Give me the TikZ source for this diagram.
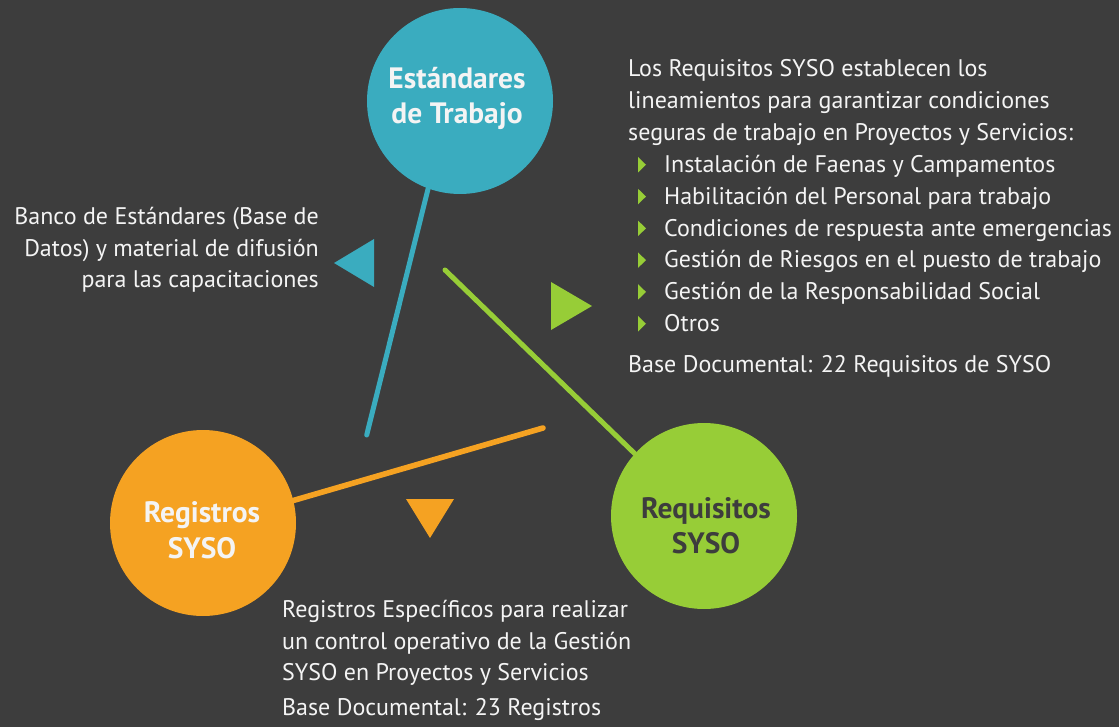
\documentclass[tikz,border=0pt]{standalone}
\usepackage{fontspec}
\setmainfont{PT Sans}
\newfontfamily\bodyfont{PT Sans}
\newfontfamily\titlefont{PT Sans}[UprightFont=* Bold]
\usetikzlibrary{calc}
\definecolor{bgc}{HTML}{3D3D3D}
\definecolor{cblue}{HTML}{3AACBF}
\definecolor{cgreen}{HTML}{97CD37}
\definecolor{corange}{HTML}{F5A222}
\definecolor{ctext}{HTML}{F4F4F4}
\definecolor{cdark}{HTML}{3D3D3D}
\pgfdeclarelayer{background}
\pgfsetlayers{background,main}
\begin{document}
\begin{tikzpicture}[x=1pt,y=-1pt,
  circ/.style={circle,minimum size=186pt,inner sep=0pt,draw=none},
  title/.style={font=\titlefont\fontsize{29.5}{35}\selectfont,inner sep=0pt,anchor=base},
  body/.style={font=\bodyfont\fontsize{24}{30}\selectfont,text=ctext,inner sep=0pt},
  bw/.style={body,anchor=base west},
  be/.style={body,anchor=base east},
  link/.style={line width=5pt,line cap=round},
  bullet/.style={fill=cgreen}
]
\useasboundingbox (0,0) rectangle (1119,727);
\begin{pgfonlayer}{background}
\fill[bgc] (0,0) rectangle (1119,727);
\end{pgfonlayer}

% circles
\node[circ,fill=cblue] (std) at (460,101) {};
\node[circ,fill=corange] (reg) at (203,523) {};
\node[circ,fill=cgreen] (req) at (704,516) {};

% connectors (under circles)
\coordinate (bend) at (366.7,435);
\coordinate (gend) at (445,270);
\coordinate (oend) at (543,428);
\begin{pgfonlayer}{background}
\draw[link,cblue] (bend) -- (std.250);
\draw[link,cgreen] (gend) -- (req.138);
\draw[link,corange,line width=5.6pt] (oend) -- (reg.14);
\end{pgfonlayer}

% circle titles
\node[title,text=ctext] (std1) at (457,89) {Estándares};
\node[title,text=ctext] (std2) at (457,124) {de Trabajo};
\node[title,text=ctext] (reg1) at (202,522) {Registros};
\node[title,text=ctext] (reg2) at (202,558) {SYSO};
\node[title,text=cdark] (req1) at (706,518) {Requisitos};
\node[title,text=cdark] (req2) at (706,553) {SYSO};

% big triangles
\fill[cblue] (334,263) -- (374,239) -- (374,287) -- cycle;
\fill[cgreen] (551,282) -- (551,330) -- (592,306) -- cycle;
\fill[corange] (406,499) -- (454,499) -- (430,538) -- cycle;

% left text
\node[be] (l1) at (319,225) {Banco de Estándares (Base de};
\node[be] (l2) at (319,257) {Datos) y material de difusión};
\node[be] (l3) at (319,288) {para las capacitaciones};

% right text
\node[bw] (r1) at (628,76.7) {Los Requisitos SYSO establecen los};
\node[bw] (r2) at (628,109) {lineamientos para garantizar condiciones};
\node[bw] (r3) at (628,141) {seguras de trabajo en Proyectos y Servicios:};
\node[bw] (i1) at (664,172.5) {Instalación de Faenas y Campamentos};
\node[bw] (i2) at (664,204.3) {Habilitación del Personal para trabajo};
\node[bw] (i3) at (664,236.1) {Condiciones de respuesta ante emergencias};
\node[bw] (i4) at (664,267.9) {Gestión de Riesgos en el puesto de trabajo};
\node[bw] (i5) at (664,299.7) {Gestión de la Responsabilidad Social};
\node[bw] (i6) at (664,331.5) {Otros};
\node[bw] (r4) at (628,372) {Base Documental: 22 Requisitos de SYSO};
\foreach \k in {1,...,6}{
  \fill[bullet] ($(i\k.base west)+(-26,0)$) -- ++(0,-15.5) -- ++(8,7.75) -- cycle;
}

% bottom text
\node[bw] (b1) at (282,617) {Registros Específicos para realizar};
\node[bw] (b2) at (282,649) {un control operativo de la Gestión};
\node[bw] (b3) at (282,680) {SYSO en Proyectos y Servicios};
\node[bw] (b4) at (282,715) {Base Documental: 23 Registros};
\end{tikzpicture}
\end{document}
